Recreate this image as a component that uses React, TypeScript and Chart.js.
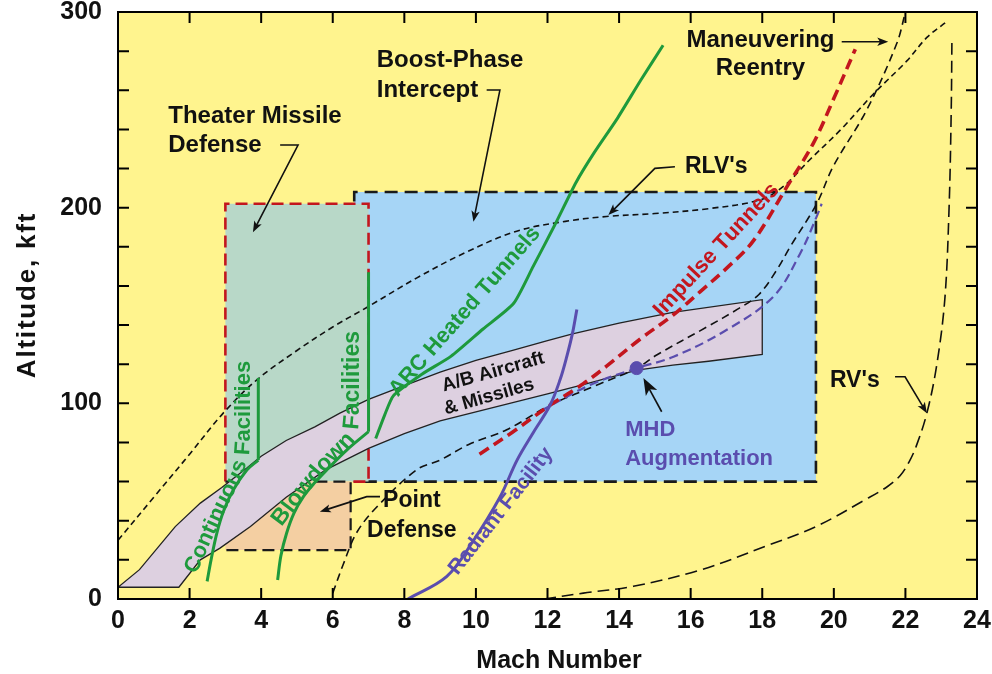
import React, { useEffect, useRef } from 'react';
import { Chart, registerables } from 'chart.js';

Chart.register(...registerables);

type Pt = [number, number];

// ---------- axes ----------
const X_TICKS = [0, 2, 4, 6, 8, 10, 12, 14, 16, 18, 20, 22, 24];
const Y_LABELS = [0, 100, 200, 300];
const Y_MINOR_TICKS = [0, 20, 40, 60, 80, 100, 120, 140, 160, 180, 200, 220, 240, 260, 280, 300];

// ---------- regions (Mach, kft) ----------
const BOOST_PHASE_BOX: Pt[] = [[6.6, 60], [6.6, 208], [19.5, 208], [19.5, 60], [6.6, 60]];
const THEATER_BOX: Pt[] = [[3, 60], [3, 202], [7, 202], [7, 60], [6.5, 60]];
const POINT_DEFENSE_BOX: Pt[] = [[3, 60], [6.5, 60], [6.5, 25], [3, 25]];

const AB_UPPER: Pt[] = [[0, 6], [0.6, 15], [1.6, 37], [2.3, 49], [2.9, 57], [3.6, 67], [4.0, 73], [4.7, 81], [5.5, 88], [6.2, 95], [7.0, 102], [8.0, 109], [9.0, 116], [10.0, 122], [11.0, 127], [12.0, 132], [12.7, 135.5], [14.0, 141], [15.5, 146.5], [18.0, 153]];
const AB_LOWER: Pt[] = [[0, 6], [1.7, 6], [2.3, 20], [2.85, 26], [3.7, 37], [4.7, 52], [5.8, 66], [7.0, 77], [8.0, 84.5], [9.0, 91], [10.0, 95.6], [11.0, 100.2], [12.0, 104.8], [13.0, 109.6], [14.5, 117], [15.5, 119.5], [16.5, 121.5], [18.0, 125]];

// ---------- trajectories ----------
const RLV_LINE: Pt[] = [[0, 30], [1.0, 52], [2.0, 74], [2.94, 95], [3.88, 112], [5.0, 127], [6.0, 139], [6.95, 149], [8.34, 164], [9.7, 177], [11.14, 188], [12.5, 193], [13.65, 195.5], [15.0, 197], [16.5, 199.5], [17.94, 204], [18.6, 211], [19.3, 224], [20.2, 240], [21.1, 258], [22.04, 275], [22.6, 287], [23.15, 295]];
const MANEUVERING_LINE: Pt[] = [[6.0, 3], [6.3, 18], [6.67, 34], [7.23, 47], [8.34, 66], [9.0, 71], [9.8, 79], [10.86, 86.5], [12.07, 99], [13.47, 110], [14.5, 118], [15.05, 124.7], [16.45, 139], [17.3, 148], [17.9, 155.5], [18.4, 168], [18.78, 180], [19.52, 202], [19.98, 221], [20.92, 250], [21.76, 284], [22.0, 300]];
const RV_LINE: Pt[] = [[11.9, 0], [13.0, 3], [14.4, 6.5], [16.3, 15], [18.1, 27], [19.5, 37], [20.9, 51], [21.5, 57.5], [21.85, 63], [22.1, 70], [22.3, 78], [22.6, 95], [22.87, 119], [23.1, 153], [23.22, 200], [23.28, 250], [23.3, 287]];
const MHD_LINE: Pt[] = [[11.8, 96], [13.19, 109.4], [14.5, 118], [15.52, 123.8], [16.92, 136.6], [18.31, 154.5], [19.06, 176.6], [19.52, 195.4], [19.66, 202]];
const IMPULSE_LINE: Pt[] = [[10.1, 74], [11.0, 85], [12.07, 99], [13.0, 110], [13.65, 119], [14.6, 133], [15.5, 145], [16.26, 157], [17.0, 169], [17.75, 183], [18.7, 211], [19.43, 233], [19.98, 255], [20.6, 281]];
const CONTINUOUS_CURVE: Pt[] = [[2.49, 9], [2.6, 20], [2.76, 33.6], [2.95, 45], [3.22, 55.7], [3.6, 65.9], [3.92, 71]];
const CONTINUOUS_STEM: Pt[] = [[3.92, 71], [3.92, 113]];
const BLOWDOWN_CURVE: Pt[] = [[4.46, 9.7], [4.55, 22], [4.71, 33.6], [4.92, 44], [5.18, 52.3], [5.5, 59.5], [5.83, 65.9], [6.39, 76.1], [7.0, 85.5]];
const BLOWDOWN_STEM: Pt[] = [[7.0, 85.5], [7.0, 167]];
const ARC_LINE: Pt[] = [[7.2, 82], [7.45, 94], [7.7, 104], [8.5, 115], [9.3, 124], [10.2, 138], [11.05, 151], [11.6, 170], [12.2, 191], [12.8, 213], [13.3, 228], [13.93, 245], [14.6, 265], [15.23, 283]];
const RADIANT_LINE: Pt[] = [[8.1, 0], [9.18, 11.4], [9.9, 29], [10.67, 52], [11.15, 71], [11.6, 85], [12.07, 99], [12.35, 112], [12.54, 124], [12.7, 136], [12.82, 148]];
const MHD_POINT: Pt[] = [[14.49, 118]];

// ---------- annotations ----------
const FONT = "'Liberation Sans', Arial, Helvetica, sans-serif";
const BLACK = '#111111';
const GREEN = '#1E9A3C';
const PURPLE = '#5A4DAE';
const RED = '#C3161E';

type Label = { text: string; at: Pt; align: CanvasTextAlign; color: string; size: number };
const LABELS: Label[] = [
  { text: 'Theater Missile', at: [1.405, 243.4], align: 'left', color: BLACK, size: 24 },
  { text: 'Defense', at: [1.405, 228.6], align: 'left', color: BLACK, size: 24 },
  { text: 'Boost-Phase', at: [7.23, 272], align: 'left', color: BLACK, size: 24 },
  { text: 'Intercept', at: [7.23, 256.7], align: 'left', color: BLACK, size: 24 },
  { text: 'Maneuvering', at: [17.95, 282.2], align: 'center', color: BLACK, size: 24 },
  { text: 'Reentry', at: [17.95, 267.8], align: 'center', color: BLACK, size: 24 },
  { text: "RLV's", at: [15.84, 217.5], align: 'left', color: BLACK, size: 23 },
  { text: "RV's", at: [19.89, 108.2], align: 'left', color: BLACK, size: 23 },
  { text: 'Point', at: [8.21, 47.2], align: 'center', color: BLACK, size: 23 },
  { text: 'Defense', at: [8.21, 31.8], align: 'center', color: BLACK, size: 23 },
  { text: 'MHD', at: [14.17, 83.3], align: 'left', color: PURPLE, size: 22 },
  { text: 'Augmentation', at: [14.17, 68.5], align: 'left', color: PURPLE, size: 22 },
];

type PathLabel = { text: string; path: Pt[]; color: string; size: number; align: 'start' | 'center' };
const PATH_LABELS: PathLabel[] = [
  { text: 'Continuous Facilities', path: [[2.03, 13.8], [2.43, 30.1], [2.91, 49.1], [3.27, 61.8], [3.49, 73.6], [3.52, 81.2], [3.52, 140]], color: GREEN, size: 22, align: 'start' },
  { text: 'Blowdown Facilities', path: [[4.43, 38.8], [5.09, 54.7], [5.7, 68.0], [6.2, 77.2], [6.51, 83.3], [6.55, 91.5], [6.55, 150]], color: GREEN, size: 23, align: 'start' },
  { text: 'ARC Heated Tunnels', path: [[7.66, 104.5], [11.72, 189.2]], color: GREEN, size: 22, align: 'center' },
  { text: 'Impulse Tunnels', path: [[15.06, 145.5], [18.38, 211.2]], color: RED, size: 22, align: 'center' },
  { text: 'Radiant Facility', path: [[9.25, 11.2], [12.15, 78.7]], color: PURPLE, size: 21, align: 'center' },
  { text: 'A/B Aircraft', path: [[9.0, 108.3], [11.96, 123.6]], color: BLACK, size: 19, align: 'center' },
  { text: '& Missiles', path: [[9.02, 96.3], [11.71, 110.4]], color: BLACK, size: 19, align: 'center' },
];

type Arrow = { pts: Pt[]; head: number };
const ARROWS: Arrow[] = [
  { pts: [[4.53, 232], [5.03, 232], [3.77, 187.5]], head: 11 },
  { pts: [[10.3, 260.1], [10.67, 260.1], [9.93, 192.8]], head: 11 },
  { pts: [[20.22, 284.8], [21.52, 284.8]], head: 11 },
  { pts: [[15.56, 220.9], [15.0, 220.1], [13.7, 196.2]], head: 11 },
  { pts: [[21.71, 113.6], [21.99, 113.6], [22.6, 94.9]], head: 11 },
  { pts: [[7.32, 52.3], [6.95, 52.3], [5.64, 44.6]], head: 11 },
  { pts: [[15.19, 95.7], [14.68, 112.9]], head: 17 },
];

// ---------- helpers ----------
const xy = (pts: Pt[]) => pts.map(([x, y]) => ({ x, y }));

function textOnPath(ctx: CanvasRenderingContext2D, text: string, pts: { x: number; y: number }[], align: 'start' | 'center') {
  const segs: { x0: number; y0: number; dx: number; dy: number; len: number; start: number }[] = [];
  let total = 0;
  for (let i = 1; i < pts.length; i++) {
    const dx = pts[i].x - pts[i - 1].x;
    const dy = pts[i].y - pts[i - 1].y;
    const len = Math.hypot(dx, dy);
    segs.push({ x0: pts[i - 1].x, y0: pts[i - 1].y, dx, dy, len, start: total });
    total += len;
  }
  const chars = Array.from(text);
  const widths = chars.map((c) => ctx.measureText(c).width);
  const tw = widths.reduce((a, b) => a + b, 0);
  let s = align === 'center' ? (total - tw) / 2 : 0;
  chars.forEach((c, i) => {
    const mid = s + widths[i] / 2;
    const seg = segs.find((g) => mid <= g.start + g.len) || segs[segs.length - 1];
    const t = (mid - seg.start) / seg.len;
    const px = seg.x0 + seg.dx * t;
    const py = seg.y0 + seg.dy * t;
    ctx.save();
    ctx.translate(px, py);
    ctx.rotate(Math.atan2(seg.dy, seg.dx));
    ctx.fillText(c, -widths[i] / 2, 0);
    ctx.restore();
    s += widths[i];
  });
}

function drawArrow(ctx: CanvasRenderingContext2D, pts: { x: number; y: number }[], head: number) {
  const n = pts.length;
  const a = pts[n - 1];
  const b = pts[n - 2];
  const ang = Math.atan2(a.y - b.y, a.x - b.x);
  const cos = Math.cos(ang);
  const sin = Math.sin(ang);
  ctx.beginPath();
  ctx.moveTo(pts[0].x, pts[0].y);
  for (let i = 1; i < n - 1; i++) ctx.lineTo(pts[i].x, pts[i].y);
  ctx.lineTo(a.x - cos * head * 0.7, a.y - sin * head * 0.7);
  ctx.stroke();
  const w = head * 0.38;
  ctx.beginPath();
  ctx.moveTo(a.x, a.y);
  ctx.lineTo(a.x - cos * head - sin * w, a.y - sin * head + cos * w);
  ctx.lineTo(a.x - cos * head * 0.75, a.y - sin * head * 0.75);
  ctx.lineTo(a.x - cos * head + sin * w, a.y - sin * head - cos * w);
  ctx.closePath();
  ctx.fill();
}

const backgroundPlugin = {
  id: 'plotBackground',
  beforeDraw(chart: any) {
    const { ctx, chartArea: a } = chart;
    ctx.save();
    ctx.fillStyle = '#FFF48E';
    ctx.fillRect(a.left, a.top, a.right - a.left, a.bottom - a.top);
    ctx.restore();
  },
};

const overlayPlugin = {
  id: 'overlay',
  afterDatasetsDraw(chart: any) {
    const { ctx, chartArea: a } = chart;
    const sx = chart.scales.x;
    const sy = chart.scales.y;
    const P = (p: Pt) => ({ x: sx.getPixelForValue(p[0]), y: sy.getPixelForValue(p[1]) });
    ctx.save();

    // arrows
    ctx.strokeStyle = BLACK;
    ctx.fillStyle = BLACK;
    ctx.lineWidth = 1.6;
    ctx.setLineDash([]);
    ARROWS.forEach((ar) => drawArrow(ctx, ar.pts.map(P), ar.head));

    // labels
    ctx.textBaseline = 'alphabetic';
    LABELS.forEach((l) => {
      ctx.font = `bold ${l.size}px ${FONT}`;
      ctx.fillStyle = l.color;
      ctx.textAlign = l.align;
      const p = P(l.at);
      ctx.fillText(l.text, p.x, p.y);
    });

    ctx.textBaseline = 'middle';
    ctx.textAlign = 'left';
    PATH_LABELS.forEach((l) => {
      ctx.font = `bold ${l.size}px ${FONT}`;
      ctx.fillStyle = l.color;
      textOnPath(ctx, l.text, l.path.map(P), l.align);
    });

    // frame and inward ticks
    ctx.strokeStyle = '#000';
    ctx.lineWidth = 2;
    ctx.strokeRect(a.left, a.top, a.right - a.left, a.bottom - a.top);
    ctx.beginPath();
    Y_MINOR_TICKS.forEach((v) => {
      const y = sy.getPixelForValue(v);
      ctx.moveTo(a.left, y);
      ctx.lineTo(a.left + 11, y);
      ctx.moveTo(a.right, y);
      ctx.lineTo(a.right - 11, y);
    });
    X_TICKS.forEach((v) => {
      const x = sx.getPixelForValue(v);
      ctx.moveTo(x, a.bottom);
      ctx.lineTo(x, a.bottom - 11);
      ctx.moveTo(x, a.top);
      ctx.lineTo(x, a.top + 11);
    });
    ctx.stroke();

    // axis titles
    ctx.fillStyle = BLACK;
    ctx.font = `bold 25px ${FONT}`;
    ctx.textAlign = 'center';
    ctx.textBaseline = 'alphabetic';
    ctx.fillText('Mach Number', 559, 668);
    ctx.save();
    ctx.translate(35, 295);
    ctx.rotate(-Math.PI / 2);
    ctx.font = `bold 26px ${FONT}`;
    (ctx as any).letterSpacing = '1.8px';
    ctx.fillText('Altitude, kft', 0, 0);
    (ctx as any).letterSpacing = '0px';
    ctx.restore();

    ctx.restore();
  },
};

export default function App() {
  const ref = useRef<HTMLCanvasElement | null>(null);

  useEffect(() => {
    if (!ref.current) return;
    const line = (pts: Pt[], color: string, width: number, dash: number[], order: number, tension = 0.35) => ({
      data: xy(pts),
      borderColor: color,
      borderWidth: width,
      borderDash: dash,
      pointRadius: 0,
      fill: false,
      tension,
      order,
    });
    const shape = (pts: Pt[], fillColor: string, color: string, width: number, dash: number[], order: number) => ({
      data: xy(pts),
      borderColor: color,
      backgroundColor: fillColor,
      borderWidth: width,
      borderDash: dash,
      pointRadius: 0,
      fill: 'shape',
      tension: 0,
      order,
    });
    const band: Pt[] = [...AB_UPPER, ...AB_LOWER.slice().reverse()];

    const chart = new Chart(ref.current, {
      type: 'line',
      data: {
        datasets: [
          shape(BOOST_PHASE_BOX, '#A6D5F6', '#1A1A1A', 2.6, [13, 7], 100),
          shape(THEATER_BOX, '#B8D8C8', RED, 2.6, [12, 6], 90),
          shape(POINT_DEFENSE_BOX, '#F4CFA2', '#1A1A1A', 2.2, [12, 6], 80),
          shape(band, '#DDD0E0', '#222222', 1.3, [], 70),
          line(RLV_LINE, '#111111', 1.6, [6, 4], 60),
          line(MANEUVERING_LINE, '#111111', 1.6, [8, 5], 58),
          line(RV_LINE, '#111111', 1.6, [12, 6], 57),
          line(MHD_LINE, PURPLE, 2.2, [9, 5], 55),
          line(IMPULSE_LINE, RED, 3.6, [11, 6], 50),
          line(CONTINUOUS_CURVE, GREEN, 3, [], 40),
          line(CONTINUOUS_STEM, GREEN, 3, [], 40, 0),
          line(BLOWDOWN_CURVE, GREEN, 3, [], 40),
          line(BLOWDOWN_STEM, GREEN, 3, [], 40, 0),
          line(ARC_LINE, GREEN, 3, [], 40, 0.2),
          line(RADIANT_LINE, PURPLE, 3, [], 35),
          {
            data: xy(MHD_POINT),
            showLine: false,
            pointRadius: 6.5,
            pointBackgroundColor: PURPLE,
            pointBorderColor: PURPLE,
            order: 10,
          },
        ] as any,
      },
      options: {
        animation: false,
        responsive: false,
        events: [],
        layout: { padding: { left: 0, top: 12, right: 15, bottom: 0 } },
        plugins: {
          legend: { display: false },
          tooltip: { enabled: false },
        },
        scales: {
          x: {
            type: 'linear',
            min: 0,
            max: 24,
            afterBuildTicks: (s: any) => {
              s.ticks = X_TICKS.map((v) => ({ value: v }));
            },
            afterFit: (s: any) => {
              s.height = 75;
              s.paddingLeft = 0;
              s.paddingRight = 0;
              s.paddingTop = 0;
              s.paddingBottom = 0;
            },
            ticks: {
              autoSkip: false,
              maxRotation: 0,
              padding: 10,
              color: BLACK,
              font: { family: FONT, size: 25, weight: 'bold', lineHeight: 1 },
            },
            grid: { display: false, drawTicks: false, tickLength: 0 },
            border: { display: false },
          },
          y: {
            type: 'linear',
            min: 0,
            max: 300,
            afterBuildTicks: (s: any) => {
              s.ticks = Y_LABELS.map((v) => ({ value: v }));
            },
            afterFit: (s: any) => {
              s.width = 118;
              s.paddingLeft = 0;
              s.paddingRight = 0;
              s.paddingTop = 0;
              s.paddingBottom = 0;
            },
            ticks: {
              autoSkip: false,
              padding: 16,
              color: BLACK,
              font: { family: FONT, size: 25, weight: 'bold', lineHeight: 1 },
            },
            grid: { display: false, drawTicks: false, tickLength: 0 },
            border: { display: false },
          },
        },
      } as any,
      plugins: [backgroundPlugin, overlayPlugin],
    });
    return () => chart.destroy();
  }, []);

  return (
    <div style={{ position: 'absolute', left: 0, top: 0, width: 992, height: 674, background: '#fff' }}>
      <canvas ref={ref} width={992} height={674} style={{ display: 'block' }} />
    </div>
  );
}
